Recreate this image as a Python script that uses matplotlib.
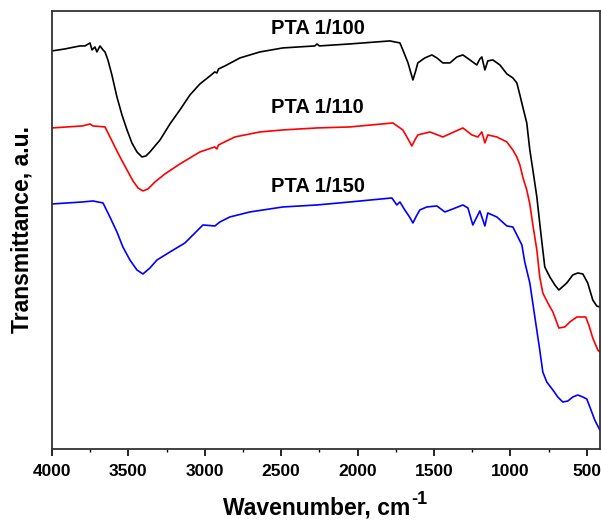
import matplotlib
matplotlib.use("Agg")
import matplotlib.pyplot as plt
from matplotlib.ticker import MultipleLocator

plt.rcParams['font.family'] = ['Liberation Sans', 'DejaVu Sans']

# FTIR spectra (wavenumber in cm-1, transmittance in arbitrary offset units)
wn_100 = [4000, 3915, 3850, 3817, 3784, 3751, 3738, 3719, 3706, 3686, 3666, 3653, 3634, 3608,
          3575, 3542, 3509, 3477, 3444, 3411, 3385, 3359, 3293, 3228, 3163, 3097, 3032, 2966,
          2935, 2921, 2910, 2868, 2770, 2639, 2489, 2280, 2266, 2250, 2050, 1789, 1723, 1704,
          1670, 1638, 1620, 1606, 1560, 1514, 1481, 1442, 1396, 1350, 1311, 1265, 1220, 1200,
          1187, 1167, 1148, 1115, 1069, 1023, 984, 958, 938, 919, 893, 873, 853, 827, 801, 775,
          742, 709, 683, 631, 592, 559, 526, 494, 461, 435, 415]
t_100 = [398, 400, 402, 403, 403, 406, 399, 402, 397, 403, 399, 397, 389, 374,
         352, 334, 319, 306, 297, 292, 293, 297, 309, 325, 339, 354, 365, 373,
         377, 376, 380, 383, 391, 397, 401, 403, 405, 403, 405, 408, 406, 399,
         386, 369, 378, 386, 391, 394, 391, 386, 386, 392, 394, 389, 384, 390,
         392, 379, 388, 389, 384, 375, 371, 366, 354, 342, 326, 299, 279, 252, 216, 182,
         172, 164, 159, 166, 174, 176, 175, 166, 149, 143, 142]

wn_110 = [4000, 3900, 3800, 3751, 3732, 3653, 3601, 3555, 3509, 3470, 3437, 3405, 3372, 3326,
          3261, 3163, 3032, 2935, 2921, 2910, 2803, 2639, 2489, 2266, 2050, 1769, 1704, 1670,
          1645, 1625, 1606, 1527, 1442, 1311, 1252, 1213, 1187, 1167, 1148, 1089, 1023, 1004,
          984, 958, 938, 919, 893, 873, 853, 827, 808, 788, 755, 722, 683, 644, 611, 566, 507,
          487, 461, 428, 415]
t_110 = [321, 322, 323, 325, 323, 322, 306, 292, 279, 268, 261, 258, 260, 267,
         275, 285, 297, 302, 300, 304, 312, 317, 319, 321, 322, 326, 319, 310,
         303, 309, 314, 317, 312, 321, 314, 312, 317, 306, 314, 312, 307, 303,
         299, 292, 284, 272, 259, 245, 224, 199, 172, 156, 146, 137, 121, 122, 127, 132, 132,
         124, 111, 99, 97]

wn_150 = [4000, 3900, 3800, 3732, 3666, 3621, 3575, 3536, 3490, 3444, 3405, 3359, 3313, 3228,
          3130, 3012, 2934, 2901, 2836, 2705, 2489, 2266, 2050, 1776, 1743, 1723, 1691, 1660,
          1638, 1615, 1593, 1547, 1481, 1429, 1377, 1311, 1278, 1246, 1200, 1167, 1148, 1089,
          1023, 984, 951, 925, 906, 873, 840, 808, 788, 762, 722, 690, 657, 624, 592, 559, 526,
          500, 480, 448, 415]
t_150 = [245, 246, 247, 248, 246, 232, 217, 202, 189, 179, 175, 181, 189, 197,
         206, 224, 223, 227, 232, 237, 242, 244, 247, 251, 244, 247, 239, 232,
         226, 233, 239, 242, 243, 237, 240, 244, 241, 224, 238, 223, 236, 232,
         223, 222, 212, 204, 187, 166, 132, 99, 77, 67, 59, 52, 47, 48, 52, 54, 52,
         50, 42, 29, 19]

labels = ["PTA 1/100", "PTA 1/110", "PTA 1/150"]
label_pos = [(2260, 420), (2260, 341), (2260, 262)]
colors = ["black", "#ff0000", "#0000ff"]

fig = plt.figure(figsize=(6.01, 5.2), dpi=100)
ax = fig.add_axes([0.0865, 0.1365, 0.9115, 0.8425])

for wn, t, c in zip([wn_100, wn_110, wn_150], [t_100, t_110, t_150], colors):
    ax.plot(wn, t, color=c, lw=1.2, solid_joinstyle='round')

for lab, (x, y) in zip(labels, label_pos):
    ax.text(x, y, lab, ha='center', va='center', fontsize=14.5, fontweight='bold')

ax.set_xlim(4000, 415)
ax.set_ylim(0, 438)
ax.xaxis.set_major_locator(MultipleLocator(500))
ax.xaxis.set_minor_locator(MultipleLocator(250))
ax.set_yticks([])
ax.tick_params(axis='x', which='major', direction='out', length=5, width=1.2,
               labelsize=12.5, pad=6)
ax.tick_params(axis='x', which='minor', direction='out', length=2.5, width=1.0)
for lbl in ax.get_xticklabels():
    lbl.set_fontweight('bold')
for sp in ax.spines.values():
    sp.set_linewidth(1.3)
    sp.set_color('#333333')

# x label with a large superscript placed just after "cm"
W, H = fig.bbox.width, fig.bbox.height
xlab = fig.text(223 / W, 6 / H, "Wavenumber, cm", ha='left', va='baseline',
                fontsize=16.5, fontweight='bold')
fig.canvas.draw()
bb = xlab.get_window_extent(renderer=fig.canvas.get_renderer())
fig.text((bb.x1 + 1) / W, 16 / H, "-1", ha='left', va='baseline',
         fontsize=13, fontweight='bold')

ax.set_ylabel("Transmittance, a.u.", fontsize=16.5, fontweight='bold', labelpad=13)

fig.savefig("out.png", dpi=100)
